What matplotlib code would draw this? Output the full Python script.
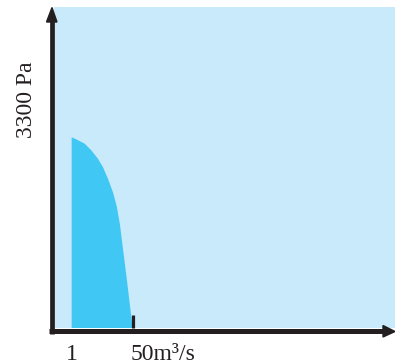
import matplotlib
matplotlib.use("Agg")
import matplotlib.pyplot as plt
from matplotlib.lines import Line2D
from matplotlib.patches import Polygon

# flow (m3/s) vs pressure (Pa)
flow = [1, 1, 4.7, 11.4, 16.7, 22.0, 26.0, 30.0, 34.0, 37.0, 39.6, 42.2, 45.0, 47.6, 49.8]
pressure = [0, 3300, 3265, 3190, 3075, 2930, 2785, 2585, 2350, 2110, 1790, 1340, 860, 390, 0]
x_labels = ["1", "50m³/s"]
y_label = "3300 Pa"

W, H = 395, 364
BG = "#c9eafb"
FILL = "#41c7f4"
INK = "#231f20"
FONT = "Liberation Serif"

fig = plt.figure(figsize=(W / 100, H / 100), dpi=100)
ax = fig.add_axes([54 / W, 36 / H, (W - 54) / W, (328 - 7.3) / H])
ax.set_facecolor(BG)
for s in ax.spines.values():
    s.set_visible(False)
ax.set_xticks([]); ax.set_yticks([])
ax.set_xlim(-13.1, 259.4)
ax.set_ylim(0, 5550)

ax.fill(flow, pressure, color=FILL, lw=0)
ax.plot([50, 50], [0, 220], color=INK, lw=2.3, solid_capstyle="butt", clip_on=False)

# axes with arrowheads, in pixel coords measured from the top-left
def px(x, y):
    return (x / W, 1 - y / H)

tf = fig.transFigure
fig.add_artist(Line2D([51.5 / W, 51.5 / W], [1 - 333.5 / H, 1 - 20 / H], color=INK, lw=3.4,
                      solid_capstyle="butt", transform=tf))
fig.add_artist(Polygon([px(52, 7.5), px(46.5, 22), px(57, 22)], closed=True, color=INK, transform=tf))
fig.add_artist(Line2D([49 / W, 384 / W], [1 - 331 / H, 1 - 331 / H], color=INK, lw=3.6,
                      solid_capstyle="butt", transform=tf))
fig.add_artist(Polygon([px(395, 331.5), px(383, 325.5), px(383, 337)], closed=True, color=INK, transform=tf))

fig.text(72 / W, 4 / H, x_labels[0], ha="center", va="baseline", fontsize=17, family=FONT, color=INK)
fig.text(131 / W, 4 / H, x_labels[1], ha="left", va="baseline", fontsize=17, family=FONT, color=INK)
fig.text(27 / W, 1 - 99.5 / H, y_label, ha="center", va="center", rotation=90, fontsize=17,
         family=FONT, color=INK)

fig.savefig("out.png", dpi=100)
